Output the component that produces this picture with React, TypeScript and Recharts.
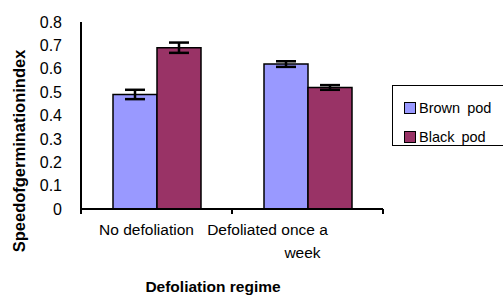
import { Bar, BarChart, ErrorBar, Label, XAxis, YAxis } from "recharts";

const categories = ["No defoliation", "Defoliated once a week"];
const tickLines = [["No defoliation"], ["Defoliated once a", "week"]];
const brownPod = [0.49, 0.62];
const brownPodErr = [0.02, 0.012];
const blackPod = [0.69, 0.52];
const blackPodErr = [0.022, 0.01];
const yTicks = [0, 0.1, 0.2, 0.3, 0.4, 0.5, 0.6, 0.7, 0.8];
const legendItems = [
  { label: "Brown pod", color: "#9999ff" },
  { label: "Black pod", color: "#993366" }
];

const data = categories.map((name, i) => ({
  name,
  brown: brownPod[i],
  brownErr: brownPodErr[i],
  black: blackPod[i],
  blackErr: blackPodErr[i]
}));

const font = "'Liberation Sans', Arial, sans-serif";

// label offsets per category, the original's wrapping sits left of centre
const lineShift = [[-10], [-40, -5]];

function CategoryTick({
  x,
  y,
  index,
  payload,
  visibleTicksCount
}: {
  x?: number;
  y?: number;
  index?: number;
  payload?: { offset?: number };
  visibleTicksCount?: number;
}) {
  const i = index ?? 0;
  const cx = x ?? 0;
  const cy = y ?? 0;
  const half = payload?.offset ?? 0;
  const lines = tickLines[i];
  const isLast = i === (visibleTicksCount ?? 1) - 1;
  return (
    <g>
      <line x1={cx - half} x2={cx - half} y1={cy} y2={cy + 5} stroke="#000" strokeWidth={2} />
      {isLast && (
        <line x1={cx + half} x2={cx + half} y1={cy} y2={cy + 5} stroke="#000" strokeWidth={2} />
      )}
      {lines.map((line, k) => (
        <text
          key={line}
          x={cx + lineShift[i][k]}
          y={cy + 26 + k * 23}
          textAnchor="middle"
          fontSize={15.5}
          fontFamily={font}
          fill="#000"
        >
          {line}
        </text>
      ))}
    </g>
  );
}

function LegendBox() {
  return (
    <div
      style={{
        position: "absolute",
        left: 392,
        top: 85,
        border: "1.5px solid #000",
        background: "#fff",
        width: 112,
        height: 61,
        boxSizing: "border-box",
        padding: "7px 0 0 11px",
        fontFamily: font,
        fontSize: 14.5
      }}
    >
      {legendItems.map((item) => (
        <div key={item.label} style={{ display: "flex", alignItems: "center", height: 29 }}>
          <span
            style={{
              width: 10,
              height: 10,
              background: item.color,
              border: "1px solid #000",
              marginRight: 3
            }}
          />
          <span style={{ wordSpacing: 3 }}>{item.label}</span>
        </div>
      ))}
    </div>
  );
}

export default function App() {
  return (
    <div style={{ position: "absolute", left: 0, top: 0, width: 503, height: 296, background: "#fff", overflow: "hidden" }}>
      <BarChart
        width={503}
        height={296}
        data={data}
        margin={{ top: 22, right: 120, bottom: 86, left: 0 }}
        barCategoryGap={32}
        barGap={0}
      >
        <XAxis
          xAxisId="cat"
          dataKey="name"
          height={1}
          axisLine={{ stroke: "#000", strokeWidth: 2 }}
          tickLine={false}
          tickSize={0}
          tickMargin={0}
          tick={<CategoryTick />}
          interval={0}
        />
        <YAxis
          width={81}
          domain={[0, 0.8]}
          ticks={yTicks}
          interval={0}
          axisLine={{ stroke: "#000", strokeWidth: 2 }}
          tickLine={false}
          tickSize={0}
          tickMargin={19}
          tickFormatter={(v: number) => (v === 0 ? "0" : v.toFixed(1))}
          tick={{ fill: "#000", fontSize: 16, fontFamily: font }}
        >
          <Label
            content={() => (
              <text
                x={0}
                y={0}
                transform="translate(25, 151) rotate(-90)"
                textAnchor="middle"
                fontSize={16.5}
                fontWeight="bold"
                fontFamily={font}
                fill="#000"
              >
                Speedofgerminationindex
              </text>
            )}
          />
        </YAxis>
        <Bar
          xAxisId="cat"
          dataKey="brown"
          name="Brown pod"
          fill="#9999ff"
          stroke="#000"
          strokeWidth={1.5}
          isAnimationActive={false}
        >
          <ErrorBar dataKey="brownErr" width={10} stroke="#000" strokeWidth={2.5} />
        </Bar>
        <Bar
          xAxisId="cat"
          dataKey="black"
          name="Black pod"
          fill="#993366"
          stroke="#000"
          strokeWidth={1.5}
          isAnimationActive={false}
        >
          <ErrorBar dataKey="blackErr" width={10} stroke="#000" strokeWidth={2.5} />
        </Bar>
        <text
          x={213}
          y={292}
          textAnchor="middle"
          fontSize={15.5}
          fontWeight="bold"
          fontFamily={font}
          fill="#000"
        >
          Defoliation regime
        </text>
      </BarChart>
      <LegendBox />
    </div>
  );
}
